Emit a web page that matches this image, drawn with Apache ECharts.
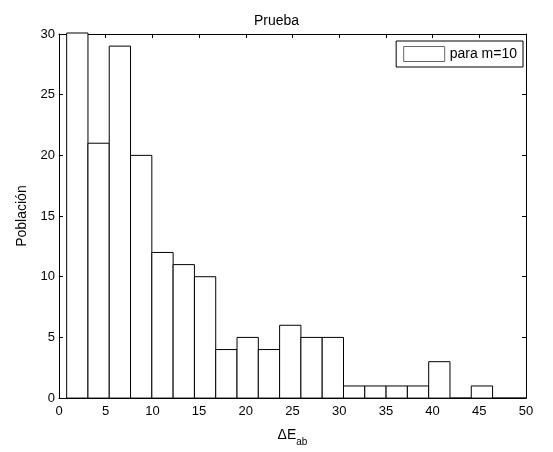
<!DOCTYPE html>
<html>
<head>
<meta charset="utf-8">
<script src="https://cdn.jsdelivr.net/npm/echarts@6/dist/echarts.min.js"></script>
<style>html,body{margin:0;padding:0;background:#fff}#c{width:553px;height:452px}</style>
</head>
<body>
<div id="c"></div>
<script>
// Histogram bins (centers) and counts
const binCenters = [1.96, 4.24, 6.52, 8.80, 11.08, 13.36, 15.64, 17.92, 20.20, 22.48, 24.76,
                    27.04, 29.32, 31.60, 33.88, 36.16, 38.44, 40.72, 43.00, 45.28, 47.56, 49.84];
const counts = [33, 21, 29, 20, 12, 11, 10, 4, 5, 4, 6, 5, 5, 1, 1, 1, 1, 3, 0, 1, 0, 0];
const binWidth = 2.28;
const xTicks = [0, 5, 10, 15, 20, 25, 30, 35, 40, 45, 50];
const yTicks = [0, 5, 10, 15, 20, 25, 30];
const seriesName = 'para m=10';

const FONT = 'Liberation Sans, Arial, Helvetica, sans-serif';
const chart = echarts.init(document.getElementById('c'), null, {renderer: 'canvas'});

const data = binCenters.map((c, i) => [c, counts[i]]);

const axisCommon = {
  type: 'value',
  axisLine: {show: true, onZero: false, lineStyle: {color: '#000', width: 1}},
  axisTick: {show: true, inside: true, length: 4, lineStyle: {color: '#000'}},
  splitLine: {show: false},
  axisLabel: {color: '#000', fontSize: 13, fontFamily: FONT}
};

chart.setOption({
  animation: false,
  backgroundColor: '#fff',
  title: {
    text: 'Prueba', left: 'center', top: 9,
    textStyle: {fontSize: 14, fontWeight: 'normal', color: '#000', fontFamily: FONT}
  },
  legend: {
    data: [{name: seriesName, icon: 'rect',
            itemStyle: {color: '#fff', borderColor: '#666', borderWidth: 1}}],
    right: 30, top: 41,
    itemWidth: 41, itemHeight: 15,
    padding: [5, 6, 5, 7],
    borderColor: '#000', borderWidth: 1, backgroundColor: '#fff',
    textStyle: {fontSize: 14, color: '#000', fontFamily: FONT},
    selectedMode: false
  },
  grid: {left: 59, right: 27, top: 34, bottom: 49, containLabel: false},
  xAxis: [
    Object.assign({}, axisCommon, {
      min: 0, max: 50, interval: 5, position: 'bottom',
      axisLabel: Object.assign({}, axisCommon.axisLabel, {margin: 7,
        formatter: v => xTicks.includes(v) ? String(v) : ''}),
      name: '{a|ΔE}{s|ab}', nameLocation: 'middle', nameGap: 22,
      nameTextStyle: {
        color: '#000', fontFamily: FONT,
        rich: {
          a: {fontSize: 14, lineHeight: 16, color: '#000', fontFamily: FONT},
          s: {fontSize: 10, lineHeight: 10, padding: [14, 0, 0, 0], color: '#000', fontFamily: FONT}
        }
      }
    }),
    Object.assign({}, axisCommon, {
      min: 0, max: 50, interval: 5, position: 'top',
      axisLabel: {show: false}
    })
  ],
  yAxis: [
    Object.assign({}, axisCommon, {
      min: 0, max: 30, interval: 5, position: 'left',
      axisLabel: Object.assign({}, axisCommon.axisLabel, {margin: 4,
        formatter: v => yTicks.includes(v) ? String(v) : ''}),
      name: 'Población', nameLocation: 'middle', nameGap: 27, nameRotate: 90,
      nameTextStyle: {color: '#000', fontSize: 14, fontFamily: FONT}
    }),
    Object.assign({}, axisCommon, {
      min: 0, max: 30, interval: 5, position: 'right',
      axisLabel: {show: false}
    })
  ],
  series: [{
    name: seriesName,
    type: 'custom',
    xAxisIndex: 0, yAxisIndex: 0,
    data: data,
    itemStyle: {color: '#fff', borderColor: '#000', borderWidth: 1},
    renderItem: function (params, api) {
      const c = api.value(0), v = api.value(1);
      const p0 = api.coord([c - binWidth / 2, v]);
      const p1 = api.coord([c + binWidth / 2, 0]);
      const shape = echarts.graphic.clipRectByRect(
        {x: p0[0], y: p0[1], width: p1[0] - p0[0], height: p1[1] - p0[1]},
        {x: params.coordSys.x, y: params.coordSys.y - 1,
         width: params.coordSys.width, height: params.coordSys.height + 2});
      if (!shape) return null;
      return {
        type: 'rect',
        shape: shape,
        style: {fill: '#fff', stroke: '#000', lineWidth: 1}
      };
    },
    z: 1
  }]
});
</script>
</body>
</html>
